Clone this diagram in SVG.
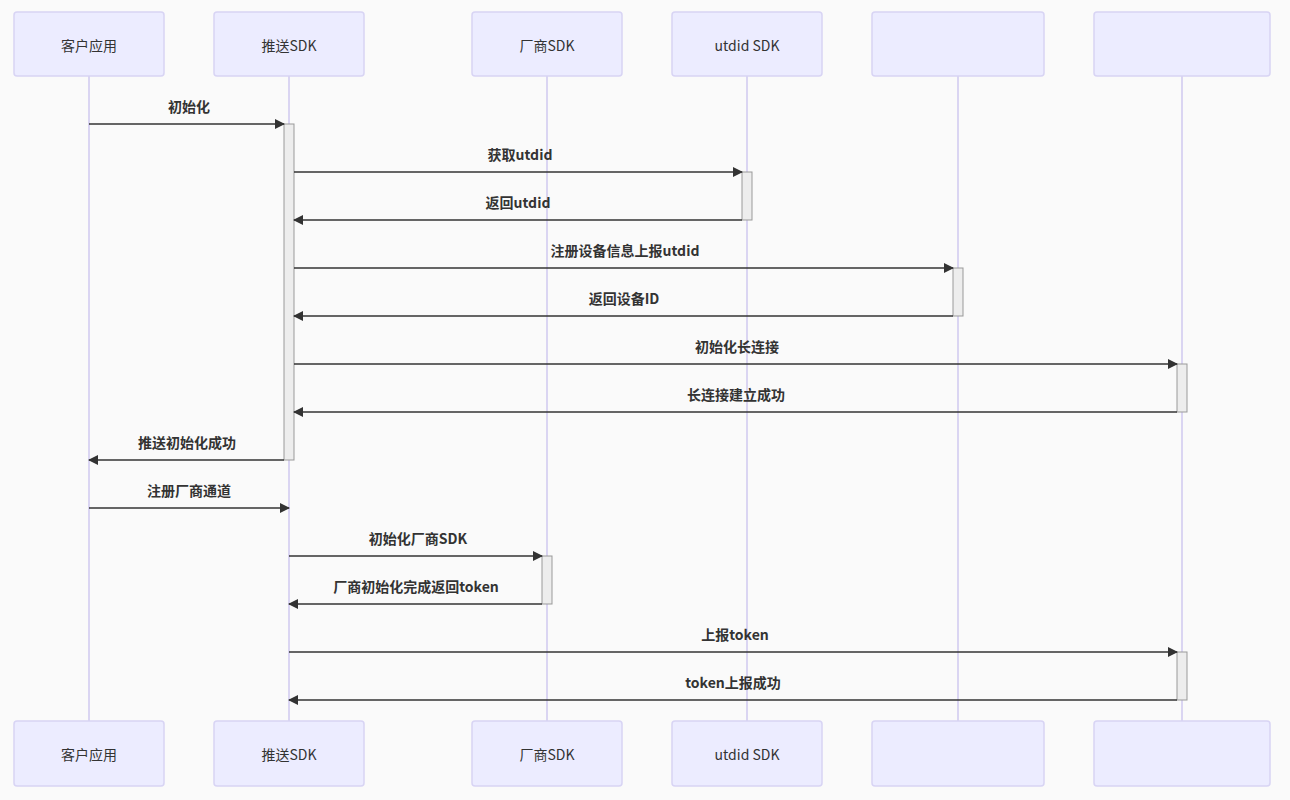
<svg xmlns="http://www.w3.org/2000/svg" width="1290" height="800" viewBox="0 0 1290 800">
<defs>
<marker id="ah" markerWidth="10" markerHeight="10" refX="9" refY="5" orient="auto" markerUnits="userSpaceOnUse"><path d="M0,0 L10,5 L0,10 z" fill="#333"/></marker>
<style>
.box{fill:#ECECFF;stroke:#D8D4F4;stroke-width:1.5}
.pt{font-family:"Noto Sans CJK SC","Liberation Sans",sans-serif;font-size:14px;fill:#333;text-anchor:middle;dominant-baseline:central}
.life{stroke:#C9C2EE;stroke-width:1.3}
.act{fill:#EDEDED;stroke:#999;stroke-width:1}
.msg{stroke:#333;stroke-width:1.3;fill:none;marker-end:url(#ah)}
.ml{font-family:"Noto Sans CJK SC","Liberation Sans",sans-serif;font-size:14px;font-weight:bold;fill:#333;text-anchor:middle}
</style>
</defs>
<rect width="1290" height="800" fill="#FAFAFA"/>
<g id="lifelines">
<line class="life" x1="89" y1="76" x2="89" y2="721"/>
<line class="life" x1="289" y1="76" x2="289" y2="721"/>
<line class="life" x1="547" y1="76" x2="547" y2="721"/>
<line class="life" x1="747" y1="76" x2="747" y2="721"/>
<line class="life" x1="958" y1="76" x2="958" y2="721"/>
<line class="life" x1="1182" y1="76" x2="1182" y2="721"/>
</g>
<g id="p1"><rect class="box" x="14" y="12" width="150" height="64" rx="3"/><text class="pt" x="89" y="45">客户应用</text><rect class="box" x="14" y="721" width="150" height="65" rx="3"/><text class="pt" x="89" y="754">客户应用</text></g>
<g id="p2"><rect class="box" x="214" y="12" width="150" height="64" rx="3"/><text class="pt" x="289" y="45">推送SDK</text><rect class="box" x="214" y="721" width="150" height="65" rx="3"/><text class="pt" x="289" y="754">推送SDK</text></g>
<g id="p3"><rect class="box" x="472" y="12" width="150" height="64" rx="3"/><text class="pt" x="547" y="45">厂商SDK</text><rect class="box" x="472" y="721" width="150" height="65" rx="3"/><text class="pt" x="547" y="754">厂商SDK</text></g>
<g id="p4"><rect class="box" x="672" y="12" width="150" height="64" rx="3"/><text class="pt" x="747" y="45">utdid SDK</text><rect class="box" x="672" y="721" width="150" height="65" rx="3"/><text class="pt" x="747" y="754">utdid SDK</text></g>
<g id="p5"><rect class="box" x="872" y="12" width="172" height="64" rx="3"/><rect class="box" x="872" y="721" width="172" height="65" rx="3"/></g>
<g id="p6"><rect class="box" x="1094" y="12" width="176" height="64" rx="3"/><rect class="box" x="1094" y="721" width="176" height="65" rx="3"/></g>
<g id="activations">
<rect class="act" x="284" y="124" width="10" height="336"/>
<rect class="act" x="742" y="172" width="10" height="48"/>
<rect class="act" x="953" y="268" width="10" height="48"/>
<rect class="act" x="1177" y="364" width="10" height="48"/>
<rect class="act" x="542" y="556" width="10" height="48"/>
<rect class="act" x="1177" y="652" width="10" height="48"/>
</g>
<g id="connectors">
<line class="msg" x1="89" y1="124" x2="284" y2="124"/><text class="ml" x="189" y="112">初始化</text>
<line class="msg" x1="294" y1="172" x2="742" y2="172"/><text class="ml" x="520" y="160">获取utdid</text>
<line class="msg" x1="742" y1="220" x2="294" y2="220"/><text class="ml" x="518" y="208">返回utdid</text>
<line class="msg" x1="294" y1="268" x2="953" y2="268"/><text class="ml" x="625" y="256">注册设备信息上报utdid</text>
<line class="msg" x1="953" y1="316" x2="294" y2="316"/><text class="ml" x="624" y="304">返回设备ID</text>
<line class="msg" x1="294" y1="364" x2="1177" y2="364"/><text class="ml" x="737" y="352">初始化长连接</text>
<line class="msg" x1="1177" y1="412" x2="294" y2="412"/><text class="ml" x="736" y="400">长连接建立成功</text>
<line class="msg" x1="284" y1="460" x2="89" y2="460"/><text class="ml" x="187" y="448">推送初始化成功</text>
<line class="msg" x1="89" y1="508" x2="289" y2="508"/><text class="ml" x="189" y="496">注册厂商通道</text>
<line class="msg" x1="289" y1="556" x2="542" y2="556"/><text class="ml" x="418" y="544">初始化厂商SDK</text>
<line class="msg" x1="542" y1="604" x2="289" y2="604"/><text class="ml" x="416" y="592">厂商初始化完成返回token</text>
<line class="msg" x1="289" y1="652" x2="1177" y2="652"/><text class="ml" x="735" y="640">上报token</text>
<line class="msg" x1="1177" y1="700" x2="289" y2="700"/><text class="ml" x="733" y="688">token上报成功</text>
</g>
</svg>
